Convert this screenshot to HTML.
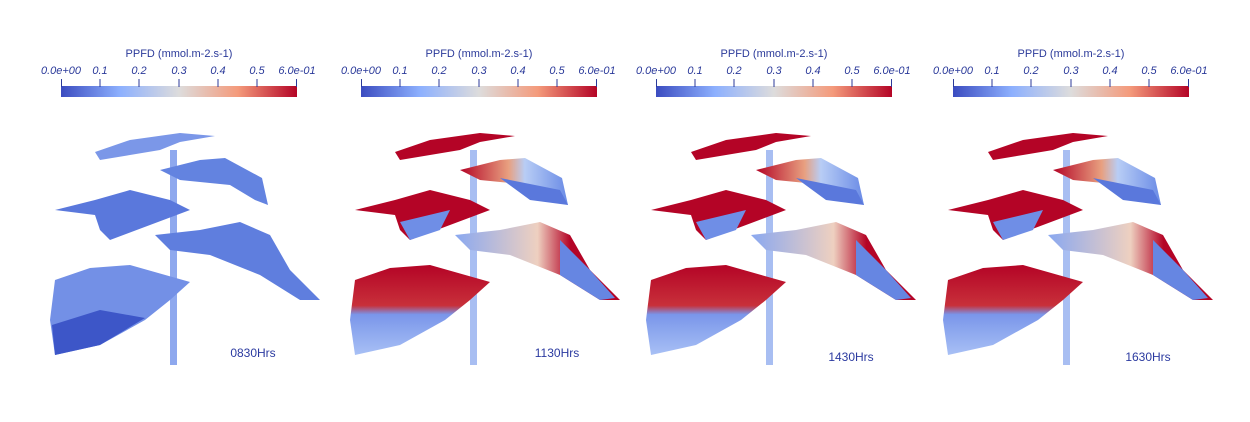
<!DOCTYPE html>
<html><head><meta charset="utf-8"><style>
body{margin:0;background:#fff;width:1250px;height:417px;overflow:hidden}
svg{font-family:"Liberation Sans",sans-serif}
</style></head><body>
<svg width="1250" height="417" viewBox="0 0 1250 417">
<defs>
<linearGradient id="cb" x1="0" x2="1"><stop offset="0" stop-color="#3b4cc0"/><stop offset="0.25" stop-color="#8db0fe"/><stop offset="0.5" stop-color="#dddcdc"/><stop offset="0.75" stop-color="#f49a7b"/><stop offset="1" stop-color="#b40426"/></linearGradient>
<linearGradient id="rb" x1="0" x2="1"><stop offset="0" stop-color="#b40426"/><stop offset="0.45" stop-color="#e8a080"/><stop offset="0.6" stop-color="#b8cdf5"/><stop offset="1" stop-color="#6a8be6"/></linearGradient>
<linearGradient id="br" x1="0" x2="1"><stop offset="0" stop-color="#8aa8f0"/><stop offset="0.5" stop-color="#eed0c0"/><stop offset="0.7" stop-color="#b40426"/><stop offset="1" stop-color="#b40426"/></linearGradient>
<linearGradient id="vb" x1="0" y1="0" x2="0" y2="1"><stop offset="0" stop-color="#b40426"/><stop offset="0.45" stop-color="#c8303a"/><stop offset="0.55" stop-color="#7a96ea"/><stop offset="1" stop-color="#a8c0f5"/></linearGradient>
<g id="cbar">
<text x="118" y="57" font-size="11" fill="#2b3a9a" text-anchor="middle">PPFD (mmol.m-2.s-1)</text>
<g font-size="11" font-style="italic" fill="#2b3a9a" text-anchor="middle">
<text x="0" y="74">0.0e+00</text><text x="39" y="74">0.1</text><text x="78" y="74">0.2</text><text x="118" y="74">0.3</text><text x="157" y="74">0.4</text><text x="196" y="74">0.5</text><text x="236" y="74">6.0e-01</text></g>
<rect x="0" y="86" width="236" height="11" fill="url(#cb)"/>
<g stroke="#2b3a9a" stroke-width="1"><path d="M0.5 79V87M39 79V87M78 79V87M118 79V87M157 79V87M196 79V87M235.5 79V87"/></g>
</g>
</defs>
<use href="#cbar" x="61"/><use href="#cbar" x="361"/><use href="#cbar" x="656"/><use href="#cbar" x="953"/>

<!-- panel 1 (blue) -->
<g transform="translate(-300,0)">
<rect x="470" y="150" width="7" height="215" fill="#8ea8ee"/>
<polygon points="395,152 430,140 480,133 515,136 480,142 460,150 430,155 400,160" fill="#7b97e8"/>
<polygon points="460,170 500,160 525,158 562,178 568,205 555,200 530,185 480,180" fill="#6383e0"/>
<polygon points="355,210 395,200 430,190 470,200 490,210 450,225 410,240 400,230 395,215" fill="#5a78dc"/>
<polygon points="455,235 500,230 540,222 570,235 590,270 620,300 600,300 560,275 510,255 470,250" fill="#5f7ede"/>
<polygon points="355,280 390,268 430,265 490,282 470,300 445,320 400,345 355,355 350,320" fill="#7390e6"/>
<polygon points="352,325 400,310 445,318 400,345 355,355" fill="#3d56c8"/>
</g>
<!-- panels 2-4 -->
<g id="p2">
<rect x="470" y="150" width="7" height="215" fill="#a8bef2"/>
<polygon points="395,152 430,140 480,133 515,136 480,142 460,150 430,155 400,160" fill="#b40426"/>
<polygon points="460,170 500,160 525,158 562,178 568,205 555,200 530,185 480,180" fill="url(#rb)"/>
<polygon points="500,178 560,190 568,205 530,200" fill="#5a78dc"/>
<polygon points="355,210 395,200 430,190 470,200 490,210 450,225 410,240 400,230 395,215" fill="#b40426"/>
<polygon points="400,222 450,210 440,230 410,240" fill="#6f8ee6"/>
<polygon points="455,235 500,230 540,222 570,235 590,270 620,300 600,300 560,275 510,255 470,250" fill="url(#br)"/>
<polygon points="560,240 590,270 615,298 600,300 560,275" fill="#6686e2"/>
<polygon points="355,280 390,268 430,265 490,282 470,300 445,320 400,345 355,355 350,320" fill="url(#vb)"/>
</g>
<use href="#p2" x="296"/><use href="#p2" x="593"/>
<g font-size="12" fill="#2b3aa0" text-anchor="middle">
<text x="253" y="357">0830Hrs</text><text x="557" y="357">1130Hrs</text><text x="851" y="361">1430Hrs</text><text x="1148" y="361">1630Hrs</text></g>
</svg>
</body></html>
